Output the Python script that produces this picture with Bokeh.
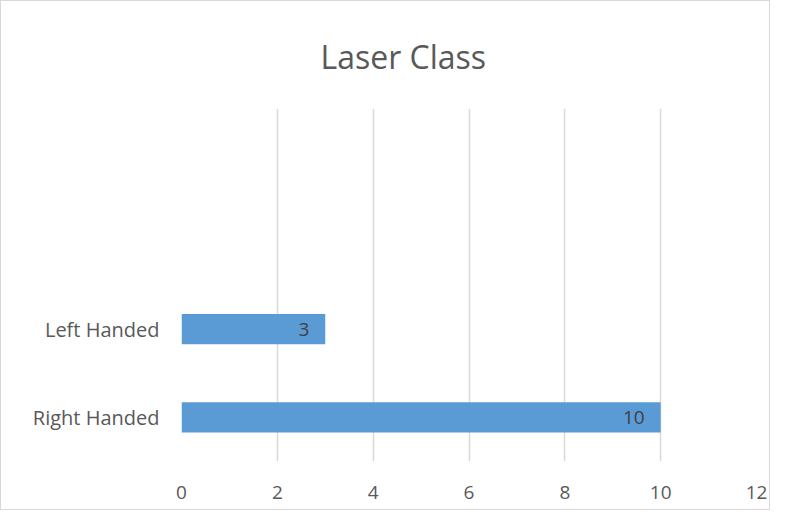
from bokeh.plotting import figure
from bokeh.models import ColumnDataSource, FixedTicker, Title
from bokeh.core.properties import value
from bokeh.embed import file_html
from bokeh.resources import INLINE

title_text = "Laser Class"
categories = ["Right Handed", "Left Handed", "", ""]
values = [10, 3]
x_ticks = [0, 2, 4, 6, 8, 10, 12]

pos = [i + 0.5 for i in range(len(values))]
src = ColumnDataSource(dict(y=pos, v=values, lbl=[str(v) for v in values]))

FONT = "Open Sans"
W, H = 770, 510
p = figure(width=W, height=H, output_backend="svg", toolbar_location=None,
           x_range=(0, 12), y_range=(0, len(categories)),
           min_border_left=180, min_border_right=15, min_border_top=35, min_border_bottom=50)
p.title = Title(text=title_text, align="left", offset=139, standoff=62, text_font=FONT,
                text_font_size="32px", text_color="#595959", text_font_style="normal")
p.hbar(y="y", right="v", left=0, height=0.34, source=src, fill_color="#5B9BD5", line_color=None)
p.text(x="v", y="y", text="lbl", source=src, text_align="right", text_baseline="middle",
       x_offset=-16, text_font=value(FONT), text_font_size="19px", text_color="#404040")

p.xaxis.ticker = FixedTicker(ticks=x_ticks)
p.yaxis.ticker = FixedTicker(ticks=[i + 0.5 for i in range(len(categories))])
p.yaxis.major_label_overrides = {i + 0.5: c for i, c in enumerate(categories)}
for ax in (p.xaxis, p.yaxis):
    ax.axis_line_color = None
    ax.major_tick_line_color = None
    ax.minor_tick_line_color = None
    ax.major_label_text_font = FONT
    ax.major_label_text_color = "#595959"
p.xaxis.major_label_text_font_size = "19px"
p.yaxis.major_label_text_font_size = "20px"
p.xaxis.major_label_standoff = 18
p.yaxis.major_label_standoff = 16
p.xgrid.grid_line_color = "#d9d9d9"
p.xgrid.grid_line_width = 1.5
p.ygrid.grid_line_color = None
p.outline_line_color = None
p.styles = {"border": "1px solid #d9d9d9"}

open("out.html", "w").write(file_html(p, INLINE))
